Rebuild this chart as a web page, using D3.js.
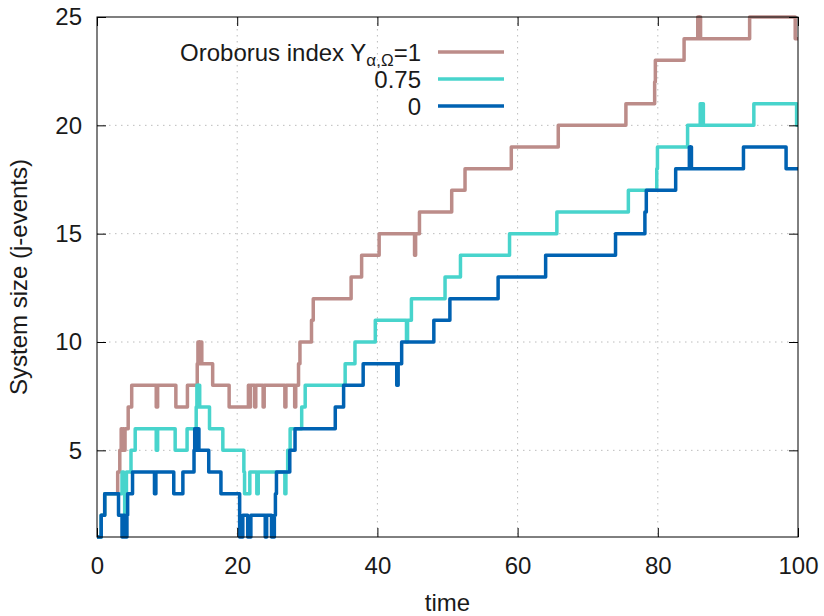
<!DOCTYPE html>
<html>
<head>
<meta charset="utf-8">
<script src="https://cdn.jsdelivr.net/npm/d3@7"></script>
<style>
    body { margin: 0; background: #ffffff; }
    text { font-family: "Liberation Sans", Arial, sans-serif; fill: #1a1a1a; }
</style>
</head>
<body>
<div id="chart"></div>
<script>
'use strict';

// step points [time, size], one list per oroborus index
const seriesOne = [
    [0, 1], [0.6, 2], [1.1, 3], [2.95, 4], [3.25, 5], [3.45, 6], [3.6, 5], [3.75, 6], [3.85, 5],
    [4.0, 6], [4.45, 7], [4.95, 8], [8.45, 7], [8.65, 8], [11.25, 7], [12.9, 8], [14.3, 9],
    [14.4, 10], [14.55, 9], [14.65, 10], [14.95, 9], [16.5, 8], [18.85, 7], [21.6, 8], [21.75, 7],
    [21.9, 8], [22.5, 7], [22.65, 8], [23.7, 7], [23.85, 8], [26.8, 7], [26.95, 8], [28.2, 7],
    [28.35, 8], [28.75, 9], [28.95, 10], [30.6, 11], [30.85, 12], [36.25, 13], [37.75, 14],
    [40.25, 15], [45.3, 14], [45.45, 15], [46.0, 16], [50.6, 17], [52.5, 18], [59.1, 19],
    [65.8, 20], [75.45, 21], [79.55, 22], [79.65, 23], [83.75, 24], [85.7, 25], [85.85, 24],
    [85.95, 25], [86.1, 24], [93.1, 25], [99.6, 24], [100, 24]
];
const seriesThreeQuarter = [
    [0, 1], [0.6, 2], [1.1, 3], [3.57, 4], [3.8, 3], [3.95, 2], [4.05, 3], [4.2, 4], [4.85, 5],
    [5.45, 6], [8.45, 5], [8.65, 6], [11.15, 5], [12.85, 6], [14.15, 7], [14.25, 8], [14.4, 7],
    [14.5, 8], [14.65, 7], [16.05, 6], [17.95, 5], [20.95, 4], [21.05, 3], [21.8, 4], [22.8, 3],
    [23.0, 4], [26.8, 3], [26.95, 4], [27.2, 5], [27.55, 6], [29.2, 7], [29.7, 8], [35.4, 9],
    [36.8, 10], [39.7, 11], [44.15, 10], [44.3, 11], [44.85, 12], [49.65, 13], [51.85, 14],
    [58.85, 15], [65.6, 16], [75.8, 17], [79.85, 18], [79.95, 19], [84.25, 20], [86.05, 21],
    [86.25, 20], [86.35, 21], [86.5, 20], [93.7, 21], [99.8, 20], [100, 20]
];
const seriesZero = [
    [0, 1], [0.6, 2], [1.1, 3], [3.07, 2], [3.57, 1], [3.77, 2], [3.97, 1], [4.27, 2], [4.37, 3],
    [5.07, 4], [8.2, 3], [8.4, 4], [10.95, 3], [12.25, 4], [13.84, 5], [13.94, 6], [14.2, 5],
    [14.3, 6], [14.54, 5], [15.94, 4], [17.68, 3], [20.35, 1], [20.8, 2], [21.5, 1], [21.95, 2],
    [24.0, 1], [24.2, 2], [24.9, 1], [25.3, 2], [25.45, 3], [25.6, 4], [27.5, 5], [28.25, 6],
    [33.99, 7], [35.18, 8], [37.97, 9], [42.76, 8], [42.96, 9], [43.46, 10], [48.05, 11],
    [50.34, 12], [57.22, 13], [64.0, 14], [73.97, 15], [78.16, 16], [78.36, 17], [82.55, 18],
    [84.5, 19], [84.6, 18], [84.7, 19], [84.8, 18], [92.22, 19], [98.3, 18], [100, 18]
];

const seriesNames = ["1", "0.75", "0"];
const seriesColors = ["#bc8c89", "#48d4cc", "#0062b2"];

const xTicks = [0, 20, 40, 60, 80, 100];
const yTicks = [5, 10, 15, 20, 25];

class StepChart {
    constructor(params) {
        this.params = params;
        this.scaleX = d3.scaleLinear().domain([0, 100]).range([params.left, params.right]);
        this.scaleY = d3.scaleLinear().domain([1, 25]).range([params.bottom, params.top]);
        // gnuplot "steps" style: hold the value until the next point
        this.stepLine = d3.line()
            .x(d => this.scaleX(d[0]))
            .y(d => this.scaleY(d[1]))
            .curve(d3.curveStepAfter);
    }

    makeSVG() {
        return d3.select(this.params.id).append("svg")
            .attr("width", this.params.width)
            .attr("height", this.params.height);
    }

    drawGrid(svg) {
        let p = this.params;
        let grid = svg.append("g").attr("class", "grid");
        // dotted grid only inside the frame
        grid.selectAll("line.gx")
            .data(xTicks.filter(v => v > 0 && v < 100))
            .enter().append("line")
            .attr("x1", d => this.scaleX(d)).attr("x2", d => this.scaleX(d))
            .attr("y1", p.top).attr("y2", p.bottom);
        grid.selectAll("line.gy")
            .data(yTicks.filter(v => v < 25))
            .enter().append("line")
            .attr("x1", p.left).attr("x2", p.right)
            .attr("y1", d => this.scaleY(d)).attr("y2", d => this.scaleY(d));
        grid.selectAll("line")
            .style("stroke", "#bcbcbc")
            .style("stroke-width", 1)
            .style("stroke-dasharray", "1.5,4.5");
    }

    drawAxes(svg) {
        let p = this.params;
        let tick = 9;

        let bottom = svg.append("g")
            .attr("transform", "translate(0," + p.bottom + ")")
            .call(d3.axisBottom(this.scaleX).tickValues(xTicks).tickSizeInner(-tick).tickSizeOuter(0).tickPadding(20));
        let left = svg.append("g")
            .attr("transform", "translate(" + p.left + ",0)")
            .call(d3.axisLeft(this.scaleY).tickValues(yTicks).tickSizeInner(-tick).tickSizeOuter(0).tickPadding(15));
        // mirrored ticks on top and right, no labels
        let top = svg.append("g")
            .attr("transform", "translate(0," + p.top + ")")
            .call(d3.axisTop(this.scaleX).tickValues(xTicks).tickSizeInner(-tick).tickSizeOuter(0).tickFormat(""));
        let right = svg.append("g")
            .attr("transform", "translate(" + p.right + ",0)")
            .call(d3.axisRight(this.scaleY).tickValues(yTicks).tickSizeInner(-tick).tickSizeOuter(0).tickFormat(""));

        [bottom, left, top, right].forEach(g => {
            g.select(".domain").remove();
            g.selectAll(".tick line").style("stroke", "#000").style("stroke-width", 1);
            g.selectAll(".tick text")
                .style("font-family", "Liberation Sans, Arial, sans-serif")
                .style("font-size", "24px")
                .style("fill", "#1a1a1a");
        });

        // frame
        svg.append("rect")
            .attr("x", p.left).attr("y", p.top)
            .attr("width", p.right - p.left).attr("height", p.bottom - p.top)
            .style("fill", "none").style("stroke", "#000").style("stroke-width", 1);

        svg.append("text")
            .attr("x", (p.left + p.right) / 2)
            .attr("y", 611)
            .attr("text-anchor", "middle")
            .style("font-size", "24px")
            .text("time");

        svg.append("text")
            .attr("transform", "translate(27," + ((p.top + p.bottom) / 2) + ") rotate(-90)")
            .attr("text-anchor", "middle")
            .style("font-size", "24px")
            .text("System size (j-events)");
    }

    drawSeries(svg) {
        let p = this.params;
        svg.append("clipPath").attr("id", "plotArea")
            .append("rect")
            .attr("x", p.left).attr("y", p.top - 2)
            .attr("width", p.right - p.left).attr("height", p.bottom - p.top + 4);

        let g = svg.append("g").attr("clip-path", "url(#plotArea)");
        p.data.forEach((series, i) => {
            g.append("path")
                .attr("d", this.stepLine(series))
                .style("fill", "none")
                .style("stroke", p.colors[i])
                .style("stroke-width", 3.5)
                .style("stroke-linejoin", "round");
        });
    }

    drawLegend(svg) {
        let p = this.params;
        let rowY = [52, 79, 106];
        p.names.forEach((name, i) => {
            let label = svg.append("text")
                .attr("x", 421)
                .attr("y", rowY[i] + 9)
                .attr("text-anchor", "end")
                .style("font-size", "24px");
            if (i === 0) {
                label.append("tspan").text("Oroborus index Y");
                label.append("tspan").attr("dy", 5).style("font-size", "17px").text("α,Ω");
                label.append("tspan").attr("dy", -5).text("=" + name);
            } else {
                label.text(name);
            }
            svg.append("line")
                .attr("x1", 438).attr("x2", 504)
                .attr("y1", rowY[i]).attr("y2", rowY[i])
                .style("stroke", p.colors[i])
                .style("stroke-width", 3.5);
        });
    }

    render() {
        let svg = this.makeSVG();
        this.drawGrid(svg);
        this.drawSeries(svg);
        this.drawAxes(svg);
        this.drawLegend(svg);
    }
}

new StepChart({
    id: "#chart",
    width: 824,
    height: 616,
    left: 97,
    right: 798,
    top: 17,
    bottom: 537,
    data: [seriesOne, seriesThreeQuarter, seriesZero],
    names: seriesNames,
    colors: seriesColors
}).render();
</script>
</body>
</html>
